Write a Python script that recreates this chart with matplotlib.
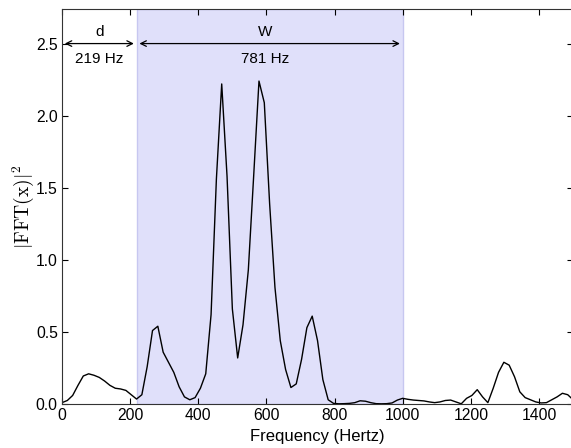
import numpy as np
import matplotlib
matplotlib.use("Agg")
import matplotlib.pyplot as plt

plt.rcParams['font.family'] = ['Liberation Sans', 'DejaVu Sans']
plt.rcParams['mathtext.fontset'] = 'cm'

# spectrum bins, 15.625 Hz apart
df_hz = 15.625
power = [0.01, 0.025, 0.06, 0.13, 0.195, 0.21, 0.2, 0.185, 0.16, 0.13,
         0.11, 0.105, 0.095, 0.065, 0.035, 0.065, 0.26, 0.51, 0.54, 0.36,
         0.29, 0.22, 0.12, 0.05, 0.03, 0.045, 0.11, 0.21, 0.62, 1.56,
         2.22, 1.58, 0.66, 0.32, 0.55, 0.93, 1.58, 2.24, 2.09, 1.39,
         0.81, 0.44, 0.24, 0.115, 0.14, 0.31, 0.53, 0.61, 0.44, 0.17,
         0.03, 0.005, 0.002, 0.003, 0.005, 0.01, 0.023, 0.02, 0.01, 0.003,
         0.002, 0.003, 0.008, 0.028, 0.04, 0.033, 0.028, 0.025, 0.022, 0.015,
         0.01, 0.015, 0.025, 0.028, 0.015, 0.002, 0.04, 0.06, 0.1, 0.05,
         0.01, 0.11, 0.22, 0.29, 0.27, 0.19, 0.085, 0.045, 0.03, 0.015,
         0.008, 0.01, 0.03, 0.05, 0.075, 0.065, 0.03]
freq = np.arange(len(power)) * df_hz

d = 219
W = 781

fig = plt.figure(figsize=(5.71, 4.48), dpi=100)
ax = fig.add_axes([0.1086, 0.098, 0.895, 0.882])

ax.axvspan(d, d + W, facecolor=(0.88, 0.88, 0.98), edgecolor=(0.78, 0.78, 0.94), linewidth=1.0)
ax.plot(freq, power, color='black', linewidth=1)

ax.annotate('', xy=(0, 2.5), xytext=(d, 2.5),
            arrowprops=dict(arrowstyle='<->', color='black', lw=0.9))
ax.annotate('', xy=(d, 2.5), xytext=(d + W, 2.5),
            arrowprops=dict(arrowstyle='<->', color='black', lw=0.9))
ax.text(d / 2, 2.53, 'd', ha='center', va='bottom', fontsize=11)
ax.text(d / 2, 2.445, '%d Hz' % d, ha='center', va='top', fontsize=11)
ax.text(595, 2.53, 'W', ha='center', va='bottom', fontsize=11)
ax.text(595, 2.445, '%d Hz' % W, ha='center', va='top', fontsize=11)

ax.set_xlim(0, 1500)
ax.set_ylim(0, 2.74)
ax.set_xticks(range(0, 1500, 200))
ax.set_yticks([0.0, 0.5, 1.0, 1.5, 2.0, 2.5])
ax.set_yticklabels(['0.0', '0.5', '1.0', '1.5', '2.0', '2.5'])
ax.tick_params(direction='in', top=True, right=True, length=4, labelsize=11.3, pad=3)
for sp in ax.spines.values():
    sp.set_color('#333333')

ax.set_xlabel('Frequency (Hertz)', fontsize=12, labelpad=4)
ax.set_ylabel(r'$|\mathrm{FFT}(\mathrm{x})|^2$', fontsize=14, labelpad=0)

plt.savefig('out.png', dpi=100)
plt.close()
